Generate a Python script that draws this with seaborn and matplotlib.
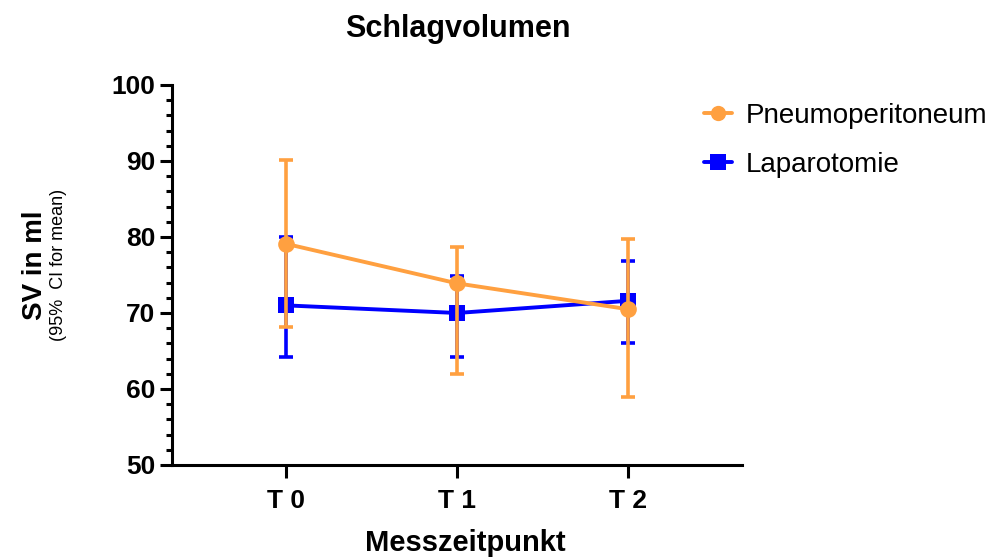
import matplotlib
matplotlib.use("Agg")
import matplotlib.pyplot as plt
from matplotlib.lines import Line2D
from matplotlib.ticker import MultipleLocator
import seaborn as sns
import pandas as pd
import numpy as np

# Data
timepoints = ["T 0", "T 1", "T 2"]
groups = ["Pneumoperitoneum", "Laparotomie"]
pneumo_mean = [79.1, 73.9, 70.5]
pneumo_low = [68.1, 62.0, 59.0]
pneumo_high = [90.1, 78.7, 79.8]
lapa_mean = [71.0, 70.0, 71.6]
lapa_low = [64.2, 64.2, 66.1]
lapa_high = [80.0, 74.9, 76.8]

colors = {"Pneumoperitoneum": "#FFA040", "Laparotomie": "#0000FF"}
markers = {"Pneumoperitoneum": "o", "Laparotomie": "s"}

sns.set_style("ticks")
plt.rcParams["font.family"] = ["Liberation Sans", "DejaVu Sans"]
plt.rcParams["text.color"] = "black"
plt.rcParams["axes.labelcolor"] = "black"
plt.rcParams["xtick.color"] = "black"
plt.rcParams["ytick.color"] = "black"

df = pd.DataFrame({
    "Messzeitpunkt": timepoints * 2,
    "SV": pneumo_mean + lapa_mean,
    "Gruppe": [groups[0]] * 3 + [groups[1]] * 3,
    "low": pneumo_low + lapa_low,
    "high": pneumo_high + lapa_high,
})
df["pos"] = df["Messzeitpunkt"].map({t: i for i, t in enumerate(timepoints)})

fig = plt.figure(figsize=(10.08, 5.58), dpi=100)
ax = fig.add_axes([0.1706, 0.1667, 0.5655, 0.681])

# draw Laparotomie first (behind), then Pneumoperitoneum
for g, z in [("Laparotomie", 2), ("Pneumoperitoneum", 3)]:
    sub = df[df["Gruppe"] == g]
    ax.errorbar(sub["pos"], sub["SV"],
                yerr=[sub["SV"] - sub["low"], sub["high"] - sub["SV"]],
                fmt="none", ecolor=colors[g], elinewidth=2.6, capsize=5,
                capthick=2.6, zorder=z)
    sns.lineplot(data=sub, x="pos", y="SV", color=colors[g], marker=markers[g],
                 markersize=12,
                 markeredgewidth=0, linewidth=2.8, ax=ax, zorder=z + 0.5,
                 legend=False, errorbar=None)

ax.set_xlim(-0.667, 2.667)
ax.set_ylim(50, 100)
ax.set_xticks(range(len(timepoints)))
ax.set_xticklabels(timepoints)
ax.yaxis.set_major_locator(MultipleLocator(10))
ax.yaxis.set_minor_locator(MultipleLocator(2))
for lab in ax.get_xticklabels() + ax.get_yticklabels():
    lab.set_fontweight("bold")
ax.tick_params(axis="both", which="major", labelsize=19, width=2.2, length=9,
               color="black", labelcolor="black")
ax.tick_params(axis="y", which="major", pad=3)
ax.tick_params(axis="y", which="minor", width=2.2, length=4.5, color="black")
ax.tick_params(axis="x", which="major", pad=8)
for side in ["top", "right"]:
    ax.spines[side].set_visible(False)
for side in ["left", "bottom"]:
    ax.spines[side].set_linewidth(2.2)
    ax.spines[side].set_color("black")

ax.set_xlabel("")
ax.set_ylabel("")
fig.text(0.454, 0.934, "Schlagvolumen", ha="center", va="baseline",
         fontsize=22, fontweight="bold")
fig.text(0.462, 0.013, "Messzeitpunkt", ha="center", va="baseline",
         fontsize=21, fontweight="bold")
fig.text(0.035, 0.525, "SV in ml", ha="center", va="center", rotation=90,
         fontsize=20, fontweight="bold")
fig.text(0.0585, 0.525, "(95%  CI for mean)", ha="center", va="center",
         rotation=90, fontsize=13)

handles = [Line2D([0], [0], color=colors[g], marker=markers[g], linewidth=2.8,
                  markersize=11, markeredgewidth=0) for g in groups]
fig.legend(handles, groups, loc="upper left", bbox_to_anchor=(0.674, 0.861),
           frameon=False, fontsize=20, handlelength=1.0, handletextpad=0.5,
           labelspacing=0.85)

fig.savefig("out.png", dpi=100)
